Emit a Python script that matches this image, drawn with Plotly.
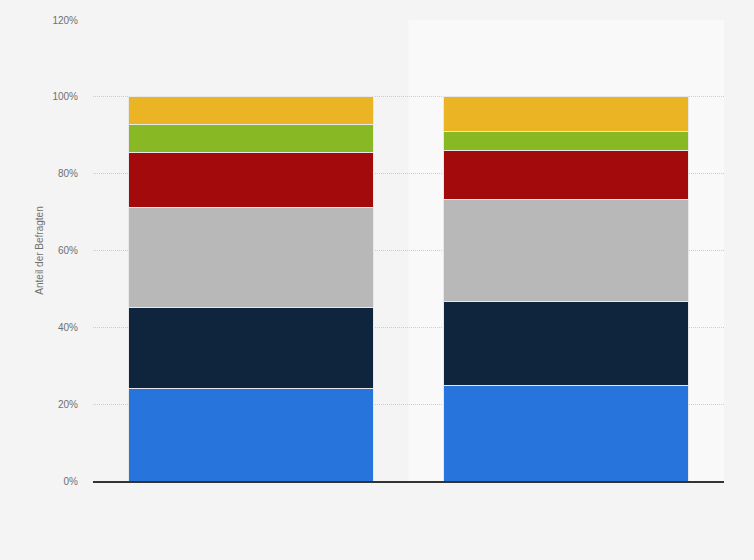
import plotly.graph_objects as go

categories = ["Gruppe A", "Gruppe B"]
series_names = ["Antwort 1", "Antwort 2", "Antwort 3", "Antwort 4", "Antwort 5", "Antwort 6"]
series_colors = ["#2775dc", "#0f253d", "#b8b8b8", "#a20a0b", "#88b924", "#eab424"]
values_1 = [24.2, 24.9]
values_2 = [21.0, 21.7]
values_3 = [26.1, 26.6]
values_4 = [14.3, 12.9]
values_5 = [7.3, 4.8]
values_6 = [7.1, 9.1]
all_values = [values_1, values_2, values_3, values_4, values_5, values_6]
y_ticks = [0, 20, 40, 60, 80, 100, 120]
y_tick_labels = ["0%", "20%", "40%", "60%", "80%", "100%", "120%"]

fig = go.Figure()
for name, color, vals in zip(series_names, series_colors, all_values):
    fig.add_trace(go.Bar(
        x=categories, y=vals, name=name,
        marker=dict(color=color, line=dict(color="#e8e8e8", width=1)),
        hovertemplate="%{y}%<extra>" + name + "</extra>",
    ))

# alternating column background
fig.add_shape(type="rect", xref="x", yref="paper", x0=0.5, x1=1.5, y0=0, y1=1,
              fillcolor="#f9f9f9", line=dict(width=0), layer="below")

fig.update_layout(
    barmode="stack",
    bargap=0.224,
    width=754, height=560,
    margin=dict(l=93, r=30, t=20, b=79),
    paper_bgcolor="#f4f4f4",
    plot_bgcolor="#f4f4f4",
    showlegend=False,
    font=dict(family="Liberation Sans, Arial, sans-serif", size=10, color="#707070"),
)
fig.update_xaxes(
    showticklabels=False, showgrid=False, ticks="",
    showline=True, linecolor="#333333", linewidth=1.5,
    range=[-0.5, 1.5],
)
fig.update_yaxes(
    range=[0, 120], tickmode="array", tickvals=y_ticks, ticktext=y_tick_labels,
    showgrid=True, gridcolor="#cccccc", griddash="1px,1px", gridwidth=1,
    zeroline=False, ticks="", ticklabelstandoff=14,
    title=dict(text="Anteil der Befragten", font=dict(size=10, color="#707070"), standoff=6),
)

fig.write_html("out.html", config={"displayModeBar": False},
               post_script="document.body.style.margin='0';document.body.style.background='#f4f4f4';")
